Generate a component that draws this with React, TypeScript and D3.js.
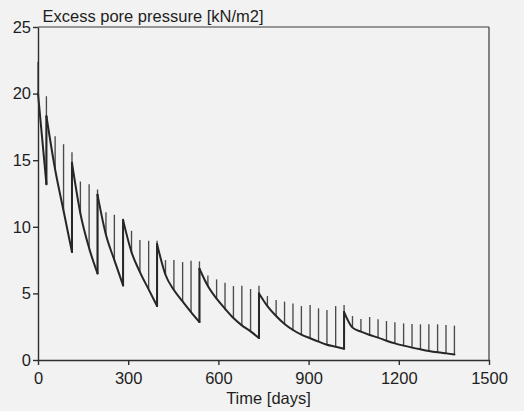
import React, { useEffect, useRef } from "react";
import * as d3 from "d3";

const width = 524;
const height = 411;
const margin = { top: 27, right: 35, bottom: 51, left: 38 };

// days on which a load was put on (one hatch line each)
const loadDays = [0, 28, 57, 85, 113, 141, 170, 198, 226, 254, 283, 311, 339, 368, 396, 424, 452, 481, 509, 537,
  565, 594, 622, 650, 678, 707, 735, 763, 792, 820, 848, 876, 905, 933, 961, 990, 1018, 1046, 1074, 1103,
  1131, 1159, 1187, 1216, 1244, 1272, 1300, 1329, 1357, 1385];

// pressure on the curve at each load day (value after the jump, where there is one)
const curveValues = [20.0, 18.3, 14.3, 11.2, 14.8, 11.0, 8.4, 12.4, 9.4, 7.5, 10.5, 8.1, 6.6, 5.3, 8.7, 6.4, 5.25, 4.4, 3.6, 6.85,
  5.55, 4.6, 3.85, 3.15, 2.6, 2.15, 5.0, 4.05, 3.3, 2.7, 2.25, 1.9, 1.63, 1.38, 1.15, 1.0, 3.6, 2.43, 2.13, 1.88,
  1.68, 1.45, 1.25, 1.08, 0.93, 0.8, 0.68, 0.58, 0.5, 0.42];

// top of the hatch line at each load day
const peakValues = [22.4, 19.8, 16.8, 16.2, 15.6, 13.4, 13.2, 12.8, 11.1, 10.9, 10.6, 9.7, 9.0, 8.95, 8.95, 7.5, 7.5, 7.35, 7.45, 7.4,
  6.35, 6.05, 5.8, 5.55, 5.57, 5.33, 5.57, 4.8, 4.5, 4.38, 4.25, 4.05, 4.13, 3.88, 3.75, 4.05, 4.13, 3.3, 3.08, 3.23,
  3.05, 2.93, 2.83, 2.75, 2.7, 2.68, 2.68, 2.68, 2.63, 2.58];

// where the curve jumps up, and the value just before the jump
const jumpIndex = [1, 4, 7, 10, 14, 19, 26, 36];
const jumpFrom = [13.2, 8.1, 6.5, 5.6, 4.05, 2.85, 1.65, 0.85];

const xTicks = [0, 300, 600, 900, 1200, 1500];
const yTicks = [0, 5, 10, 15, 20, 25];

const font = "'Liberation Sans', Arial, sans-serif";

export default function App() {
  const xAxisRef = useRef<SVGGElement>(null);
  const yAxisRef = useRef<SVGGElement>(null);

  const x = d3.scaleLinear().domain([0, 1500]).range([margin.left, width - margin.right]);
  const y = d3.scaleLinear().domain([0, 25]).range([height - margin.bottom, margin.top]);

  useEffect(() => {
    const xAxis = d3.axisBottom(x).tickValues(xTicks).tickFormat(d3.format("d")).tickSize(5).tickSizeOuter(0).tickPadding(7);
    const yAxis = d3.axisLeft(y).tickValues(yTicks).tickFormat(d3.format("d")).tickSize(5).tickSizeOuter(0).tickPadding(2);
    const gx = d3.select(xAxisRef.current).call(xAxis);
    const gy = d3.select(yAxisRef.current).call(yAxis);
    [gx, gy].forEach((g) => {
      g.selectAll("path, line").attr("stroke", "#2e2e2e").attr("stroke-width", 1.4);
      g.selectAll("text").attr("fill", "#1e1e1e").style("font-family", font).style("font-size", "16.5px");
    });
  }, []);

  // split the curve in pieces between the jumps
  const bounds = [0, ...jumpIndex, loadDays.length - 1];
  const line = d3.line<[number, number]>()
    .x((d) => x(d[0]))
    .y((d) => y(d[1]))
    .curve(d3.curveMonotoneX);

  const pieces = bounds.slice(0, -1).map((start, s) => {
    const end = bounds[s + 1];
    const pts: [number, number][] = [];
    for (let i = start; i < end; i++) pts.push([loadDays[i], curveValues[i]]);
    if (s < jumpIndex.length) pts.push([loadDays[end], jumpFrom[s]]);
    else pts.push([loadDays[end], curveValues[end]]);
    return line(pts);
  });

  const bottomAt = (i: number) => {
    const j = jumpIndex.indexOf(i);
    return j >= 0 ? jumpFrom[j] : curveValues[i];
  };

  return (
    <svg width={width} height={height} style={{ position: "absolute", left: 0, top: 0, background: "#f2f2f2" }}>
      <rect width={width} height={height} fill="#f2f2f2" />

      {/* hatch lines */}
      <g stroke="#4a4a4a" strokeWidth={1.35}>
        {loadDays.map((d, i) => (
          <line key={i} x1={x(d)} x2={x(d)} y1={y(bottomAt(i))} y2={y(peakValues[i])} />
        ))}
      </g>

      {/* pore pressure curve */}
      <g fill="none" stroke="#262626" strokeWidth={2} strokeLinejoin="round" strokeLinecap="round">
        {pieces.map((p, i) => <path key={i} d={p || ""} />)}
        {jumpIndex.map((k, j) => (
          <line key={"j" + j} x1={x(loadDays[k])} x2={x(loadDays[k])} y1={y(jumpFrom[j])} y2={y(curveValues[k])} />
        ))}
      </g>

      {/* frame */}
      <g stroke="#3a3a3a" strokeWidth={1.2}>
        <line x1={x(0)} x2={x(1500)} y1={y(25)} y2={y(25)} />
        <line x1={x(1500)} x2={x(1500)} y1={y(25)} y2={y(0)} />
      </g>

      <g ref={xAxisRef} transform={"translate(0," + y(0) + ")"} />
      <g ref={yAxisRef} transform={"translate(" + x(0) + ",0)"} />

      <text x={42.5} y={21.5} fontFamily={font} fontSize={16.5} fill="#1e1e1e">Excess pore pressure [kN/m2]</text>
      <text x={(x(0) + x(1500)) / 2 + 5} y={404} textAnchor="middle" fontFamily={font} fontSize={16.5} fill="#1e1e1e">Time [days]</text>
    </svg>
  );
}
